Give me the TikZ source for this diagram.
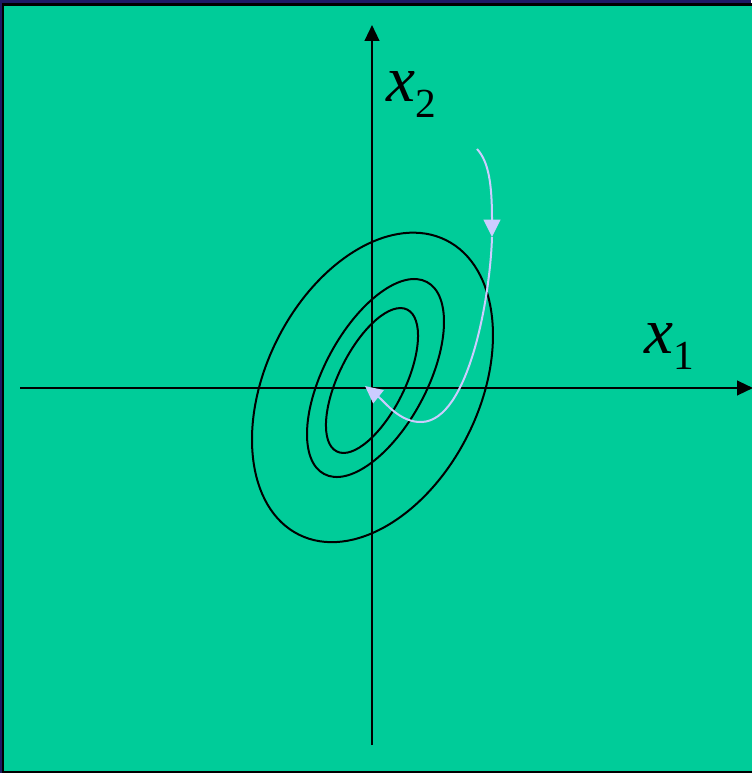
\documentclass[tikz,border=0pt]{standalone}
\usepackage{fontspec}
\setmainfont{Liberation Serif}
\usetikzlibrary{arrows.meta}
\definecolor{SlideGreen}{RGB}{0,204,153}
\definecolor{SlideNavy}{RGB}{30,25,100}
\definecolor{PathLilac}{RGB}{204,204,255}

\begin{document}
\begin{tikzpicture}[x=0.75pt,y=-0.75pt,
    axis/.style={line width=1.7pt,-{Triangle[length=12pt,width=11pt]}},
    contour/.style={line width=1.5pt},
    flow/.style={PathLilac,line width=1.5pt,-{Triangle[length=13pt,width=12.5pt]}},
    lab/.style={inner sep=0pt,font=\fontsize{49}{49}\selectfont\itshape}]
  \useasboundingbox (0,0) rectangle (751,773);
  % slide background and frame
  \fill[SlideNavy] (0,0) rectangle (751,773);
  \fill[SlideGreen] (3.3,4.5) rectangle (760,772);
  \draw[line width=1.65pt] (3.3,4.5) rectangle (760,772);

  % axes
  \coordinate (x1start) at (20,388);
  \coordinate (x1end) at (753,388);
  \coordinate (x2start) at (372,745);
  \coordinate (x2end) at (372,25);
  \draw[axis] (x1start) -- (x1end);
  \draw[axis] (x2start) -- (x2end);
  \node[lab,anchor=base west] (x1lab) at (644,353) {x\raisebox{-12pt}{\fontsize{31}{31}\selectfont\upshape 1}};
  \node[lab,anchor=base west] (x2lab) at (386,102) {x\raisebox{-12pt}{\fontsize{31}{31}\selectfont\upshape 2}};

  % level curves
  \coordinate (c1) at (372.5,387.4);
  \coordinate (c2) at (375.5,378);
  \coordinate (c3) at (372,380.5);
  \draw[contour,rotate around={63.4:(c1)}] (c1) ellipse [x radius=164.6,y radius=106.6];
  \draw[contour,rotate around={61.8:(c2)}] (c2) ellipse [x radius=108.9,y radius=51.3];
  \draw[contour,rotate around={63.6:(c3)}] (c3) ellipse [x radius=79.2,y radius=33.1];

  % descent path
  \coordinate (p0) at (477,149);
  \coordinate (p1) at (492,237);
  \coordinate (p2) at (422,422);
  \coordinate (p3) at (365,386);
  \draw[flow] (p0) .. controls (489,162) and (492,185) .. (p1);
  \draw[flow] (p1) .. controls (490,300) and (468,420) .. (p2) .. controls (400,423) and (385,402) .. (p3);
\end{tikzpicture}
\end{document}
